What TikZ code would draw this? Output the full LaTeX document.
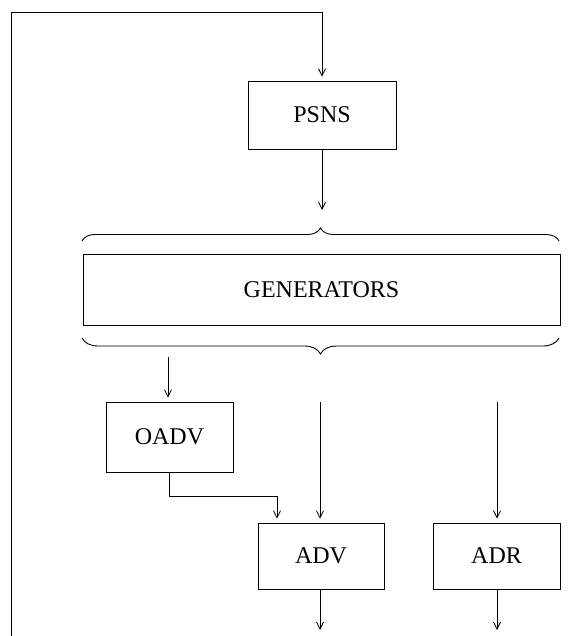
\documentclass[tikz,border=0pt]{standalone}
\usepackage{fontspec}
\setmainfont{Liberation Serif}
\usetikzlibrary{arrows.meta,decorations.pathreplacing}
\begin{document}
\begin{tikzpicture}[x=1pt,y=-1pt,
  line width=0.9pt,
  blk/.style={draw,rectangle,inner sep=0pt,font=\fontsize{24}{28}\selectfont},
  arr/.style={-{Straight Barb[length=7pt,width=7pt,line width=0.8pt]}},
  into/.style={arr,shorten >=4pt},
  brc/.style={decorate,decoration={brace,amplitude=#1}}]
\useasboundingbox (0,0) rectangle (571,636);

% blocks
\node[blk,minimum width=148pt,minimum height=68pt] (psns) at (322,115) {PSNS};
\node[blk,minimum width=477pt,minimum height=71pt] (gen) at (321.5,289.5) {GENERATORS};
\node[blk,minimum width=127pt,minimum height=70pt] (oadv) at (169.5,437) {OADV};
\node[blk,minimum width=126pt,minimum height=66pt] (adv) at (321,556) {ADV};
\node[blk,minimum width=127pt,minimum height=66pt] (adr) at (496.5,556) {ADR};

% braces around the generator block
\coordinate (btl) at (82,241);
\coordinate (btr) at (559,241);
\coordinate (bbl) at (82,338);
\coordinate (bbr) at (559,338);
\draw[brc=13pt] (btl) -- (btr);
\draw[brc=16pt] (bbr) -- (bbl);

% helper coordinates
\coordinate (ytop) at (0,12);
\coordinate (fb) at (11,636);
\coordinate (toGen) at (322,210);
\coordinate (oIn) at (168,357);
\coordinate (mIn) at (320,402);
\coordinate (rIn) at (497,402);
\coordinate (oBend) at (169,496);
\coordinate (advIn) at (277,496);
\coordinate (advOut) at (320,630);
\coordinate (adrOut) at (497,630);

% feedback loop into PSNS
\draw[into] (fb) |- (psns.north |- ytop) -- (psns.north);
% PSNS to generators
\draw[arr] (psns.south) -- (toGen);
% generator outputs
\draw[into] (oIn) -- (oIn |- oadv.north);
\draw[into] (mIn) -- (mIn |- adv.north);
\draw[into] (rIn) -- (rIn |- adr.north);
% OADV into ADV
\draw[into] (oadv.south) |- (advIn) -- (advIn |- adv.north);
% outputs
\draw[arr] (advOut |- adv.south) -- (advOut);
\draw[arr] (adrOut |- adr.south) -- (adrOut);
\end{tikzpicture}
\end{document}
